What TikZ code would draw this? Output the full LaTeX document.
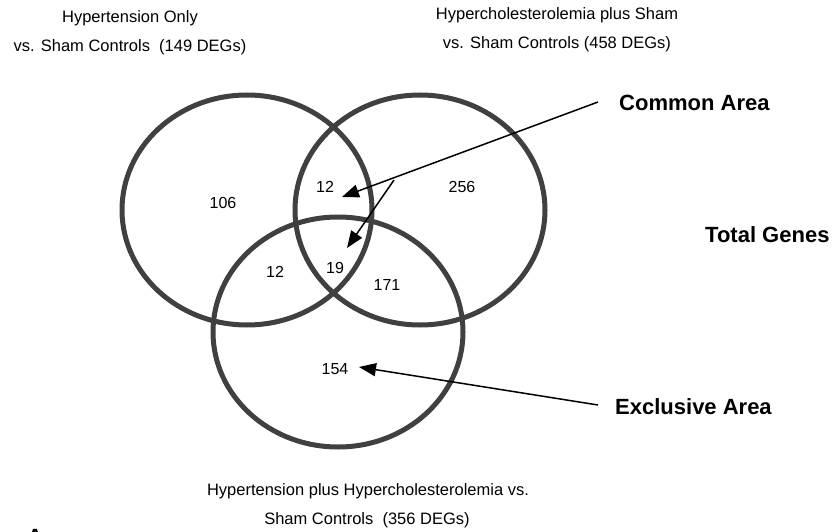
\documentclass[tikz,border=0pt]{standalone}
\usepackage{fontspec}
\setmainfont{Liberation Sans}
\usetikzlibrary{arrows.meta,shapes.geometric}
\begin{document}
\begin{tikzpicture}[x=1pt,y=-1pt,
  venn/.style={draw=black!75, line width=5pt, ellipse, inner sep=0pt,
    minimum width=250pt, minimum height=230pt},
  txt/.style={font=\fontsize{16.5}{19}\selectfont, inner sep=0pt},
  num/.style={font=\fontsize{16}{19}\selectfont, inner sep=0pt},
  big/.style={font=\bfseries\fontsize{22}{26}\selectfont, inner sep=0pt, anchor=west},
  ptr/.style={line width=1.5pt, -{Triangle[length=17pt,width=13pt]}}]
\useasboundingbox (0,0) rectangle (835,532);
\fill[white] (0,0) rectangle (835,532);
% circles
\node[venn] (L) at (247,210) {};
\node[venn] (R) at (420,210) {};
\node[venn] (B) at (338,332) {};
% titles
\node[txt] (t1a) at (130,18) {Hypertension Only};
\node[txt] (t1b) at (130,47) {vs. Sham Controls\ \ (149 DEGs)};
\node[txt] (t2a) at (557,15) {Hypercholesterolemia plus Sham};
\node[txt] (t2b) at (557,44) {vs. Sham Controls (458 DEGs)};
\node[txt] (t3a) at (368,491) {Hypertension plus Hypercholesterolemia vs.};
\node[txt] (t3b) at (367,520) {Sham Controls\ \ (356 DEGs)};
% numbers
\node[num] (n106) at (223,203) {106};
\node[num] (n12a) at (325,187) {12};
\node[num] (n256) at (462,187) {256};
\node[num] (n12b) at (275,272) {12};
\node[num] (n19) at (335,268) {19};
\node[num] (n171) at (387,285) {171};
\node[num] (n154) at (335,369) {154};
% labels
\node[big] (common) at (619,103) {Common Area};
\node[big] (total) at (705,235) {Total Genes};
\node[big] (excl) at (615,407) {Exclusive Area};
\node[font=\bfseries\fontsize{22}{26}\selectfont, inner sep=0pt, anchor=north] (A) at (35,529) {A};
% arrows
\coordinate (c1s) at (598,102);
\coordinate (c1e) at (342,197);
\coordinate (c2s) at (394,180);
\coordinate (c2e) at (347,248);
\coordinate (e1s) at (598,405);
\coordinate (e1e) at (359,367);
\draw[ptr] (c1s) -- (c1e);
\draw[ptr] (c2s) -- (c2e);
\draw[ptr] (e1s) -- (e1e);
\end{tikzpicture}
\end{document}
